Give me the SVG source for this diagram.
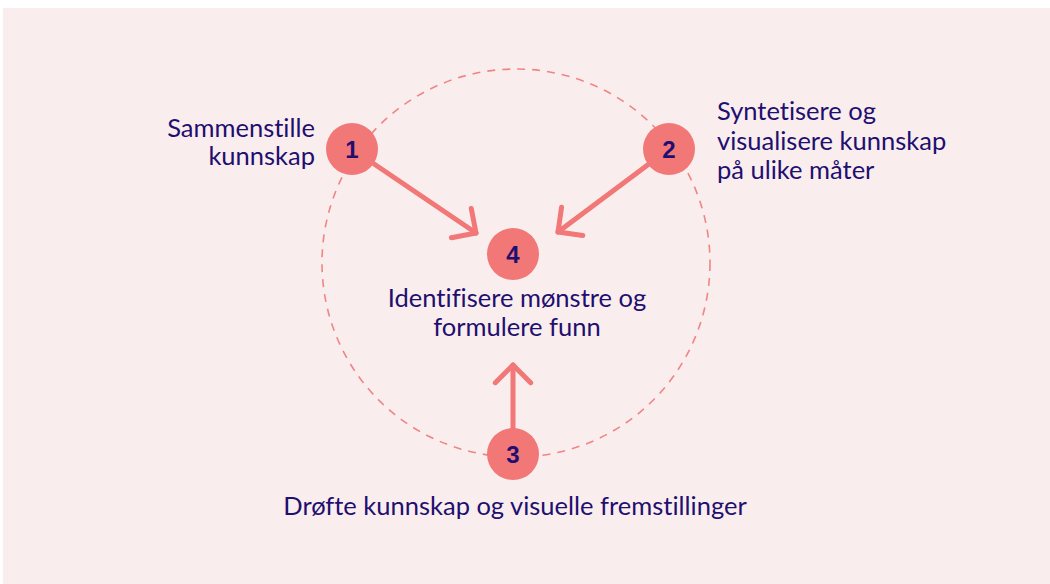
<svg xmlns="http://www.w3.org/2000/svg" width="1050" height="584" viewBox="0 0 1050 584">
  <style>
    .label { font-family: "Lato", "Liberation Sans", sans-serif; font-size: 25.5px; fill: #1F0F70; font-variant-ligatures: none; }
    .num { font-family: "Liberation Sans", sans-serif; font-size: 24px; font-weight: bold; fill: #1F0F70; text-anchor: middle; }
    .dot { fill: #F27777; }
    .arrow { fill: none; stroke: #F27777; stroke-width: 5; stroke-linecap: round; stroke-linejoin: round; }
  </style>
  <defs>
    <marker id="chevron" markerUnits="userSpaceOnUse" viewBox="-22 -22 26 44" markerWidth="26" markerHeight="44" refX="0" refY="0" orient="auto" overflow="visible">
      <path d="M-17.7,-17.7 L0,0 L-17.7,17.7" fill="none" stroke="#F27777" stroke-width="5" stroke-linecap="round" stroke-linejoin="round"/>
    </marker>
  </defs>

  <!-- background panel -->
  <rect x="3" y="8" width="1047" height="576" fill="#F9EEED"/>

  <!-- dashed cycle ring -->
  <circle cx="516" cy="263" r="194" fill="none" stroke="#F08585" stroke-width="1.6" stroke-dasharray="8 7"/>

  <!-- connectors -->
  <g id="connectors">
    <line class="arrow" x1="352" y1="149" x2="476" y2="233" marker-end="url(#chevron)"/>
    <line class="arrow" x1="669" y1="149" x2="558" y2="232" marker-end="url(#chevron)"/>
    <line class="arrow" x1="513" y1="454" x2="513" y2="365" marker-end="url(#chevron)"/>
  </g>

  <!-- step 1 -->
  <g id="node1">
    <circle class="dot" cx="352" cy="149" r="26"/>
    <text class="num" x="352" y="158">1</text>
    <text class="label" text-anchor="end" x="315" y="137">Sammenstille</text>
    <text class="label" text-anchor="end" x="315" y="165">kunnskap</text>
  </g>

  <!-- step 2 -->
  <g id="node2">
    <circle class="dot" cx="669" cy="149" r="26"/>
    <text class="num" x="669" y="158">2</text>
    <text class="label" x="717" y="120">Syntetisere og</text>
    <text class="label" x="717" y="150">visualisere kunnskap</text>
    <text class="label" x="717" y="179">på ulike måter</text>
  </g>

  <!-- step 3 -->
  <g id="node3">
    <circle class="dot" cx="513" cy="454" r="26"/>
    <text class="num" x="513" y="463">3</text>
    <text class="label" text-anchor="middle" x="515" y="515">Drøfte kunnskap og visuelle fremstillinger</text>
  </g>

  <!-- step 4 -->
  <g id="node4">
    <circle class="dot" cx="513" cy="254" r="26"/>
    <text class="num" x="513" y="263">4</text>
    <text class="label" text-anchor="middle" x="517" y="307">Identifisere mønstre og</text>
    <text class="label" text-anchor="middle" x="517" y="336">formulere funn</text>
  </g>
</svg>
